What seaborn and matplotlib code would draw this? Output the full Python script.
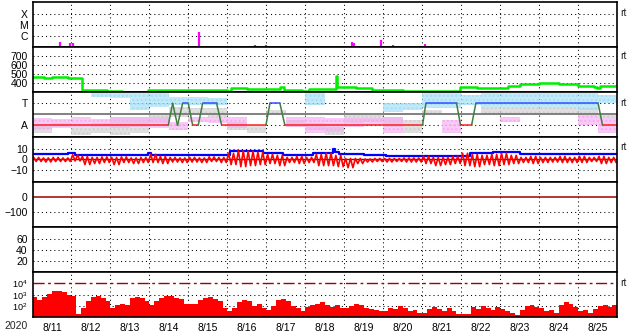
import numpy as np
import pandas as pd
import matplotlib
matplotlib.use("Agg")
import matplotlib.pyplot as plt
from matplotlib.ticker import NullLocator
import seaborn as sns

sns.set_style("white")
plt.rcParams['font.family'] = ['Liberation Sans', 'DejaVu Sans']
plt.rcParams['mathtext.default'] = 'regular'
plt.rcParams['hatch.linewidth'] = 1.0

# ---------------- data (days since 2020-08-11 00:00) ----------------
day_labels = ["8/11", "8/12", "8/13", "8/14", "8/15", "8/16", "8/17", "8/18",
              "8/19", "8/20", "8/21", "8/22", "8/23", "8/24", "8/25"]
year_label = "2020"

# X-ray flares: time (day), peak flux (W/m2)
flare_t = [0.346, 0.705, 0.79, 0.974, 1.05, 1.14, 4.27, 5.705, 5.99, 8.19, 8.25, 8.94, 9.24, 10.06]
flare_v = [1.3e-7, 3.0e-7, 1.3e-7, 2.6e-7, 2.4e-7, 1.3e-7, 2.3e-6, 1.6e-7, 1.6e-7, 3.1e-7, 2.2e-7, 4.5e-7, 1.6e-7, 2.0e-7]

# solar wind speed (km/s)
speed_t = [0, 0.1, 0.3, 0.5, 0.7, 0.9, 1.1, 1.26, 1.28, 1.6,
           1.9, 2.3, 2.97, 3.3, 3.8, 4.0, 4.3, 4.6, 5.0, 5.1,
           5.5, 5.9, 6.2, 6.35, 6.45, 6.9, 7.1, 7.4, 7.78, 7.8,
           8.0, 8.3, 8.7, 9.0, 9.5, 10.0, 10.5, 10.93, 10.96, 11.4,
           11.9, 12.2, 12.5, 13.0, 13.5, 14.0, 14.4, 14.47, 14.55, 15.0]
speed_v = [465, 475, 462, 472, 466, 458, 464, 456, 326, 324,
           320, 306, 322, 326, 325, 330, 322, 326, 318, 345,
           342, 340, 335, 355, 330, 318, 340, 333, 481, 362,
           355, 345, 330, 325, 320, 318, 318, 320, 355, 348,
           350, 365, 392, 405, 392, 370, 362, 345, 372, 372]

# IMF sector scatter envelopes, 0.5-day bins (T=+1, A=-1); None = no points
pink_hi = [-0.36, -0.45, -0.21, -0.45, -0.21, -0.21, -0.27, -0.67, -0.21, -0.21,
           -0.21, -0.36, None, -0.21, -0.21, -0.36, -0.36, -0.36, -0.21, -0.21,
           None, -0.52, -0.21, None, -0.21, -0.06, None, None, -0.06, -0.21]
pink_lo = [-1.36, -1.18, -1.12, -1.12, -1.27, -1.12, -1.27, -1.42, -0.67, -0.82,
           -1.27, -1.12, None, -1.12, -1.73, -1.58, -1.12, -0.97, -1.73, -1.27,
           None, -1.73, -1.12, None, -0.67, -0.82, None, None, -0.97, -1.73]
blue_hi = [None, None, None, 1.97, 1.97, 1.91, 1.91, 1.61, 1.61, 1.45,
           1.0, None, 1.91, None, 1.91, 1.30, None, None, 1.0, 1.0,
           1.91, 1.91, 1.76, 1.91, 1.91, 1.91, 1.91, 1.91, 1.91, 1.76]
blue_lo = [None, None, None, 1.55, 1.45, 0.39, 0.70, 0.85, 0.85, 0.85,
           0.39, None, 0.39, None, 0.85, 0.70, None, None, 0.24, 0.39,
           0.55, 0.55, 0.85, 0.55, 0.55, 0.55, 0.55, 0.55, 0.39, 1.0]
gray_hi = [-0.97, -0.82, -1.12, -0.82, -0.21, -0.21, 0.09, 0.70, 0.55, 0.55,
           -0.67, -0.97, 0.39, -0.52, -0.82, -1.12, 0.09, -0.06, -0.21, -0.52,
           0.39, 0.39, None, 0.55, 0.55, 0.55, 0.55, 0.55, 0.55, 0.09]
gray_lo = [-1.73, -1.27, -1.88, -1.73, -1.88, -1.73, -0.82, -0.21, -0.06, -0.21,
           -1.42, -1.73, -0.06, -1.12, -1.42, -1.88, -0.82, -0.67, -1.12, -1.73,
           0.09, -0.06, None, -0.06, -0.06, -0.06, -0.06, -0.06, -0.06, -0.21]

# estimated sector polarity line
sec_t = [0, 3.482, 3.595, 3.72, 3.851, 3.995, 4.108, 4.251, 4.364, 4.723, 4.851, 5.987,
         6.090, 6.346, 6.474, 10.005, 10.090, 10.877, 10.979, 11.262, 11.372, 14.508, 14.621, 15]
sec_v = [-1, -1, 1, -1, 1, 1, -1, -1, 1, 1, -1, -1,
         1, 1, -1, -1, 1, 1, -1, -1, 1, 1, -1, -1]

# IMF Bt (nT)
bt_t = [0, 0.9, 1.1, 2.95, 3.05, 5.06, 5.92, 6.43, 7.2, 7.71, 7.76, 7.85, 8.5, 9.08, 11.22, 11.8, 12.5, 13.5, 15]
bt_v = [5.5, 6.5, 4.5, 6.5, 4, 8, 6.5, 4.5, 6.5, 10, 7, 5.5, 4.5, 3.5, 6, 7.5, 5.5, 5.5, 5.5]

# IMF Bz envelope (nT), 0.25-day bins
bz_hi = [2, 1.5, 2, 1.5, 4.5, 3, 2, 2.5, 2, 2.5, 1.5, 2, 5, 3, 2, 1.5, 2, 1.5, 2.5, 2,
         6, 8.5, 8, 7, 5, 4, 2, 3, 2, 5, 6, 4, 1, 1, 0.5, 1, 1, 1, 1.5, 1.5,
         3, 2, 2, 3, 6, 5, 4, 5, 6, 4, 2, 3, 2, 2, 3, 2, 3, 2, 3, 2]
bz_lo = [-2, -2.5, -2, -2, -1.5, -5, -4, -3, -5, -3, -4, -3, -3, -4, -2.5, -3, -2.5, -3, -2, -3,
         -5, -7, -6, -5, -4, -6, -3, -4, -3, -6, -6, -7, -8, -4, -2.5, -2, -2.5, -2, -2.5, -2.5,
         -4, -6, -5, -4, -6, -7, -5, -6, -5, -4, -3, -4, -3, -2.5, -3, -3, -3, -2, -4, -3]

# >2 MeV electron flux, log10, 3-hour bins
eflux_log = [2.8, 2.5, 2.8, 3.1, 3.3, 3.35, 3.2, 3.0,
             2.9, 1.3, 1.8, 2.4, 2.8, 2.9, 2.7, 2.4,
             1.8, 2.1, 2.2, 2.1, 2.7, 2.75, 2.7, 2.4,
             2.1, 2.4, 2.7, 2.9, 2.9, 2.7, 2.6, 2.2,
             2.2, 2.2, 2.5, 2.7, 2.8, 2.6, 2.4, 1.8,
             1.5, 1.8, 2.3, 2.5, 2.4, 2.0, 2.2, 1.8,
             1.6, 2.0, 2.5, 2.6, 2.4, 2.0, 1.8, 1.5,
             1.9, 2.1, 2.2, 2.3, 2.1, 1.9, 2.1, 1.8,
             1.8, 2.0, 2.2, 2.1, 1.8, 1.7, 1.6, 1.5,
             1.5, 1.8, 1.7, 2.0, 1.8, 1.5, 1.6, 1.4,
             1.4, 1.7, 1.9, 1.7, 1.5, 1.8, 1.5, 1.3,
             1.3, 1.3, 1.9, 1.7, 2.0, 1.8, 1.6, 1.9,
             1.7, 1.5, 1.4, 1.2, 1.6, 2.0, 2.1, 1.9,
             1.8, 1.5, 1.6, 1.4, 2.1, 2.3, 2.2, 1.9,
             1.5, 1.6, 1.4, 1.7, 2.0, 2.1, 1.9, 2.1]

# ---------------- layout ----------------
W, H = 633, 334
fig = plt.figure(figsize=(W / 100, H / 100), dpi=100)
X0, X1 = 32.5, 617.3
panels = [(2.3, 47.3), (47.3, 92.3), (92.3, 137.3), (137.3, 182.3),
          (182.3, 227.3), (227.3, 272.3), (272.3, 317.0)]
axes = []
for top, bot in panels:
    ax = fig.add_axes([X0 / W, 1 - bot / H, (X1 - X0) / W, (bot - top) / H])
    ax.set_xlim(0, 15)
    for s in ax.spines.values():
        s.set_color('black')
        s.set_linewidth(1.2)
        s.set_zorder(6)
    ax.tick_params(axis='both', length=0, labelsize=7.5, pad=3.5, colors='black')
    ax.set_xticks([])
    for d in range(1, 15):
        ax.axvline(d, color='black', lw=0.75, ls=(0, (1, 3)), zorder=0.5)
    axes.append(ax)

DOT = dict(color='black', lw=0.75, ls=(0, (1, 3)), zorder=0.5)
DARKRED = '#a00000'

def hgrid(ax, vals):
    for v in vals:
        ax.axhline(v, **DOT)

# Panel 1: X-ray
ax = axes[0]
ax.set_yscale('log')
ax.set_ylim(1e-7, 1e-3)
ax.yaxis.set_minor_locator(NullLocator())
ax.set_yticks([1e-4, 1e-5, 1e-6], ['X', 'M', 'C'])
hgrid(ax, [1e-4, 1e-5, 1e-6])
ax.vlines(flare_t, 1e-7, flare_v, color='#ff00ff', lw=1.6, zorder=3)

# Panel 2: solar wind speed
ax = axes[1]
ax.set_ylim(300, 800)
ax.set_yticks([400, 500, 600, 700])
hgrid(ax, [400, 500, 600, 700])
sns.lineplot(x=speed_t, y=speed_v, ax=ax, color='#00ee00', lw=1.8,
             drawstyle='steps-post', estimator=None, zorder=3)

# Panel 3: sector
ax = axes[2]
ax.set_ylim(-2.09, 2.0)
ax.set_yticks([1, -1], ['T', 'A'])
hgrid(ax, [1, -1])
edges = np.arange(0, 15.001, 0.5)
def band(ax, lo, hi, color):
    lo_a = np.array([np.nan if v is None else v for v in lo] + [np.nan], float)
    hi_a = np.array([np.nan if v is None else v for v in hi] + [np.nan], float)
    lo_a[-1] = lo_a[-2]; hi_a[-1] = hi_a[-2]
    ax.fill_between(edges, lo_a, hi_a, step='post', facecolor=color, alpha=0.65,
                    lw=0, zorder=1)
    ax.fill_between(edges, lo_a, hi_a, step='post', facecolor='none',
                    edgecolor=color, hatch='....', lw=0, zorder=1.1)
band(ax, gray_lo, gray_hi, '#d0d0d0')
band(ax, pink_lo, pink_hi, '#f5aef2')
band(ax, blue_lo, blue_hi, '#a2def6')
ax.axhline(0, color='#808080', lw=1.4, zorder=2)
for i in range(len(sec_t) - 1):
    a, b = sec_v[i], sec_v[i + 1]
    col = '#ff2020' if (a == b == -1) else ('#3050ff' if a == b == 1 else '#3f7f3f')
    sns.lineplot(x=sec_t[i:i + 2], y=sec_v[i:i + 2], ax=ax, color=col, lw=1.1,
                 estimator=None, sort=False, zorder=3)

# Panel 4: IMF
ax = axes[3]
ax.set_ylim(-22.1, 21.4)
ax.set_yticks([10, 0, -10])
hgrid(ax, [10, -10])
ax.axhline(0, color=DARKRED, lw=1.0, zorder=1)
sns.lineplot(x=bt_t, y=bt_v, ax=ax, color='#0000ff', lw=1.6,
             drawstyle='steps-post', estimator=None, zorder=2)
zz_t, zz_v = [], []
for i, (h, l) in enumerate(zip(bz_hi, bz_lo)):
    for k in range(4):
        zz_t.append(i * 0.25 + (k + 0.5) * 0.0625)
        zz_v.append(h if k % 2 == 0 else l)
sns.lineplot(x=zz_t, y=zz_v, ax=ax, color='#ff0000', lw=1.2,
             estimator=None, sort=False, zorder=3)

# Panel 5: Dst
ax = axes[4]
ax.set_ylim(-200, 100)
ax.set_yticks([0, -100])
hgrid(ax, [-100])
ax.axhline(0, color=DARKRED, lw=1.1, zorder=2)

# Panel 6
ax = axes[5]
ax.set_ylim(0, 80)
ax.set_yticks([20, 40, 60])
hgrid(ax, [20, 40, 60])

# Panel 7: electron flux
ax = axes[6]
ax.set_yscale('log')
ax.set_ylim(10, 1e5)
ax.yaxis.set_minor_locator(NullLocator())
ax.set_yticks([1e4, 1e3, 1e2], ['$10^4$', '$10^3$', '$10^2$'])
ax.tick_params(axis='y', labelsize=6.6)
hgrid(ax, [1e3, 1e2])
ax.axhline(1e4, color=DARKRED, lw=1.0, dashes=(8, 2.5, 2, 2.5), zorder=2)
e8 = np.arange(0, 15.001, 0.125)
fl = 10 ** np.array(eflux_log + [eflux_log[-1]])
ax.fill_between(e8, 10, fl, step='post', color='#ff0000', lw=0, zorder=3)
ax.set_xticks(np.arange(15) + 0.5, day_labels)
ax.tick_params(axis='x', pad=4)

fig.text(16 / W, 1 - 326 / H, year_label, ha='center', va='center', fontsize=7.5)
for yy in [13, 56, 103, 147, 283]:
    fig.text(620 / W, 1 - yy / H, 'rt', ha='left', va='center', fontsize=7.5)

fig.savefig('out.png', dpi=100)
